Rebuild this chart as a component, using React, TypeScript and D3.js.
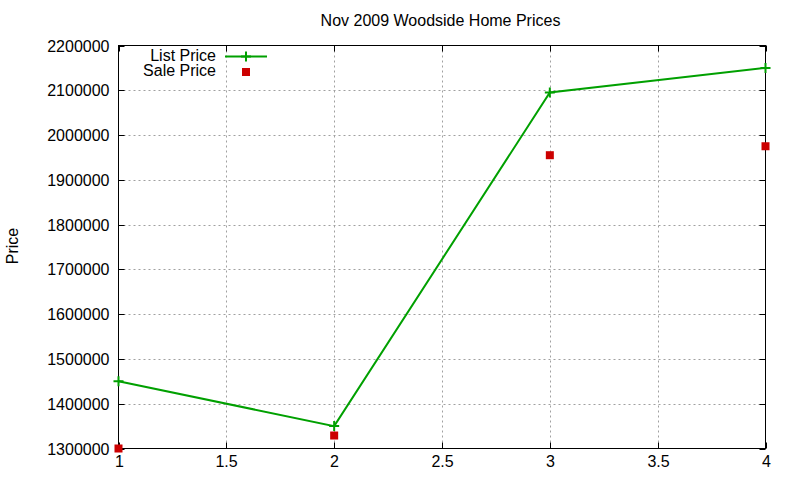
import * as d3 from "d3";

const xValues = [1, 2, 3, 4];
const listPrices = [1450000, 1350000, 2095000, 2150000];
const salePrices = [1300000, 1329000, 1955000, 1975000];
const xTicks = [1, 1.5, 2, 2.5, 3, 3.5, 4];
const yTicks = [1300000, 1400000, 1500000, 1600000, 1700000, 1800000, 1900000, 2000000, 2100000, 2200000];

const width = 800;
const height = 480;
const plot = { left: 118.5, right: 765.5, top: 45.5, bottom: 448.5 };
const green = "#00a000";
const red = "#cc0000";
const font = "'Liberation Sans', Arial, sans-serif";

export default function App() {
  const xScale = d3.scaleLinear().domain([1, 4]).range([plot.left, plot.right]);
  const yScale = d3.scaleLinear().domain([1300000, 2200000]).range([plot.bottom, plot.top]);
  const line = d3
    .line<number>()
    .x((_, i) => xScale(xValues[i]))
    .y((d) => yScale(d));

  return (
    <svg width={width} height={height} style={{ position: "absolute", left: 0, top: 0, background: "#fff" }} fontFamily={font}>
      <rect width={width} height={height} fill="#fff" />

      {/* grid */}
      {yTicks.slice(1, -1).map((t) => (
        <line key={`gy-${t}`} x1={plot.left} x2={plot.right} y1={Math.round(yScale(t)) + 0.5} y2={Math.round(yScale(t)) + 0.5} stroke="#a0a0a0" strokeDasharray="2 3" />
      ))}
      {xTicks.slice(1, -1).map((t) => (
        <line key={`gx-${t}`} x1={Math.round(xScale(t)) + 0.5} x2={Math.round(xScale(t)) + 0.5} y1={plot.top} y2={plot.bottom} stroke="#a0a0a0" strokeDasharray="2 3" />
      ))}

      {/* ticks */}
      {yTicks.map((t) => {
        const y = Math.round(yScale(t)) + 0.5;
        return (
          <g key={`ty-${t}`}>
            <line x1={plot.left} x2={plot.left + 6} y1={y} y2={y} stroke="#000" />
            <line x1={plot.right - 6} x2={plot.right} y1={y} y2={y} stroke="#000" />
            <text x={plot.left - 9} y={y + 5.5} textAnchor="end" fontSize={16} fill="#000">{t}</text>
          </g>
        );
      })}
      {xTicks.map((t) => {
        const x = Math.round(xScale(t)) + 0.5;
        return (
          <g key={`tx-${t}`}>
            <line x1={x} x2={x} y1={plot.bottom} y2={plot.bottom - 6} stroke="#000" />
            <line x1={x} x2={x} y1={plot.top} y2={plot.top + 6} stroke="#000" />
            <text x={x} y={467} textAnchor="middle" fontSize={16} fill="#000">{t}</text>
          </g>
        );
      })}

      <rect x={plot.left} y={plot.top} width={plot.right - plot.left} height={plot.bottom - plot.top} fill="none" stroke="#000" />

      {/* series */}
      <path d={line(listPrices) ?? ""} fill="none" stroke={green} strokeWidth={2} />
      {listPrices.map((v, i) => (
        <path key={`lp-${i}`} d={`M${xScale(xValues[i]) - 5},${yScale(v)}h10M${xScale(xValues[i])},${yScale(v) - 5}v10`} stroke={green} strokeWidth={2} />
      ))}
      {salePrices.map((v, i) => (
        <rect key={`sp-${i}`} x={xScale(xValues[i]) - 4} y={yScale(v) - 4} width={8} height={8} fill={red} />
      ))}

      {/* legend */}
      <text x={216} y={61} textAnchor="end" fontSize={16} fill="#000">List Price</text>
      <line x1={225} x2={267} y1={56.5} y2={56.5} stroke={green} strokeWidth={2} />
      <path d="M241,56.5h10M246,51.5v10" stroke={green} strokeWidth={2} />
      <text x={216} y={76} textAnchor="end" fontSize={16} fill="#000">Sale Price</text>
      <rect x={242} y={68} width={8} height={8} fill={red} />

      {/* titles */}
      <text x={440.5} y={26} textAnchor="middle" fontSize={16} fill="#000">Nov 2009 Woodside Home Prices</text>
      <text transform="translate(18, 246) rotate(-90)" textAnchor="middle" fontSize={16} fill="#000">Price</text>
    </svg>
  );
}
